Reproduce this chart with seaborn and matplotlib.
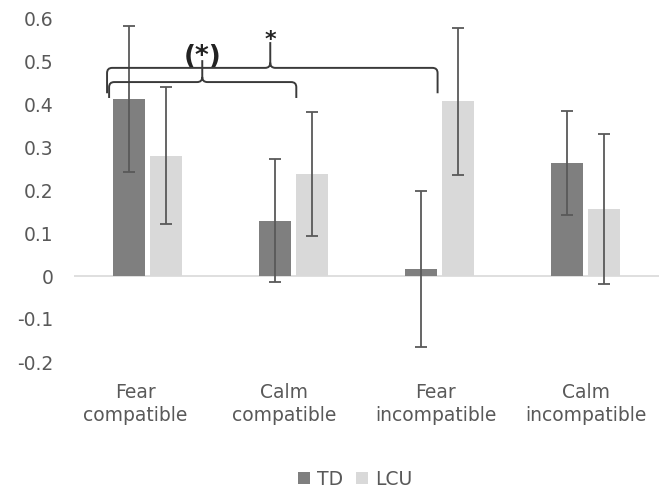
import numpy as np
import pandas as pd
import matplotlib
matplotlib.use("Agg")
import matplotlib.pyplot as plt
import seaborn as sns
from matplotlib.path import Path
from matplotlib.patches import PathPatch, Patch

# Data
conditions = ["Fear\ncompatible", "Calm\ncompatible", "Fear\nincompatible", "Calm\nincompatible"]
groups = ["TD", "LCU"]
td_means = [0.411, 0.128, 0.017, 0.262]
lcu_means = [0.280, 0.237, 0.406, 0.156]
td_err = [0.170, 0.143, 0.181, 0.121]
lcu_err = [0.159, 0.144, 0.171, 0.175]
yticks = [-0.2, -0.1, 0, 0.1, 0.2, 0.3, 0.4, 0.5, 0.6]
ytick_labels = ["-0.2", "-0.1", "0", "0.1", "0.2", "0.3", "0.4", "0.5", "0.6"]
# slight left shift of category labels, as in the original
label_shift = [-0.082, -0.062, -0.027, 0.0]

colors = {"TD": "#7f7f7f", "LCU": "#d9d9d9"}
text_color = "#595959"

df = pd.DataFrame({
    "condition": conditions * 2,
    "group": ["TD"] * 4 + ["LCU"] * 4,
    "value": td_means + lcu_means,
})

sns.set_style("white")
plt.rcParams["font.family"] = ["DejaVu Sans"]

fig = plt.figure(figsize=(6.61, 4.90), dpi=100)
ax = fig.add_axes([74 / 661, 128 / 490, 585 / 661, 344 / 490])

sns.barplot(
    data=df, x="condition", y="value", hue="group",
    palette=colors, hue_order=groups, order=conditions,
    width=0.507, gap=0.135, errorbar=None, legend=False,
    saturation=1, linewidth=0, ax=ax,
)

# error bars
bars = sorted(ax.patches, key=lambda p: p.get_x())
vals = []
for i in range(len(conditions)):
    vals.append((td_means[i], td_err[i]))
    vals.append((lcu_means[i], lcu_err[i]))
for bar, (m, e) in zip(bars, vals):
    cx = bar.get_x() + bar.get_width() / 2
    ax.errorbar(cx, m, yerr=e, color="#595959", elinewidth=1.3,
                capsize=4.3, capthick=1.3, zorder=3)

ax.axhline(0, color="#d9d9d9", linewidth=1.2, zorder=0)
ax.set_xlim(-0.5, len(conditions) - 0.5)
ax.set_ylim(-0.2, 0.6)
ax.set_yticks(yticks)
ax.set_yticklabels(ytick_labels)
ax.set_xticks([i + s for i, s in enumerate(label_shift)])
ax.set_xticklabels(conditions)
ax.set_xlabel("")
ax.set_ylabel("")
for s in ax.spines.values():
    s.set_visible(False)
ax.tick_params(axis="y", length=0, pad=15, labelsize=13.5, labelcolor=text_color)
ax.tick_params(axis="x", length=0, pad=15, labelsize=13.5, labelcolor=text_color)
for lab in ax.get_xticklabels():
    lab.set_linespacing(1.25)


def brace(ax, x0, x1, xm, y_line, y_end, y_tip, r=0.035, ry=0.012):
    verts = [
        (x0, y_end), (x0, y_line - ry), (x0, y_line), (x0 + r, y_line),
        (xm - r, y_line), (xm, y_line), (xm, y_line + ry), (xm, y_tip),
        (xm, y_line + ry), (xm, y_line), (xm + r, y_line),
        (x1 - r, y_line), (x1, y_line), (x1, y_line - ry), (x1, y_end),
    ]
    codes = [Path.MOVETO, Path.LINETO, Path.CURVE3, Path.CURVE3,
             Path.LINETO, Path.CURVE3, Path.CURVE3, Path.LINETO,
             Path.MOVETO, Path.CURVE3, Path.CURVE3,
             Path.LINETO, Path.CURVE3, Path.CURVE3, Path.LINETO]
    ax.add_patch(PathPatch(Path(verts, codes), fill=False,
                           edgecolor="#3a3a3a", linewidth=1.4, zorder=4))


brace(ax, -0.26, 1.02, 0.377, 0.451, 0.414, 0.502)
brace(ax, -0.274, 1.986, 0.842, 0.484, 0.425, 0.544)
ax.text(0.377, 0.492, "(*)", ha="center", va="baseline", fontsize=19,
        fontweight="bold", color="#222222")
ax.text(0.842, 0.534, "*", ha="center", va="baseline", fontsize=16,
        fontweight="bold", color="#222222")

handles = [Patch(facecolor=colors[g], edgecolor="none", label=g) for g in groups]
fig.legend(handles=handles, loc="center", bbox_to_anchor=(355 / 661, 1 - 479 / 490),
           ncol=2, frameon=False, fontsize=13.5, handlelength=0.65, handleheight=0.65,
           handletextpad=0.35, columnspacing=0.7, labelcolor=text_color,
           borderaxespad=0, borderpad=0)

fig.savefig("out.png", dpi=100)
